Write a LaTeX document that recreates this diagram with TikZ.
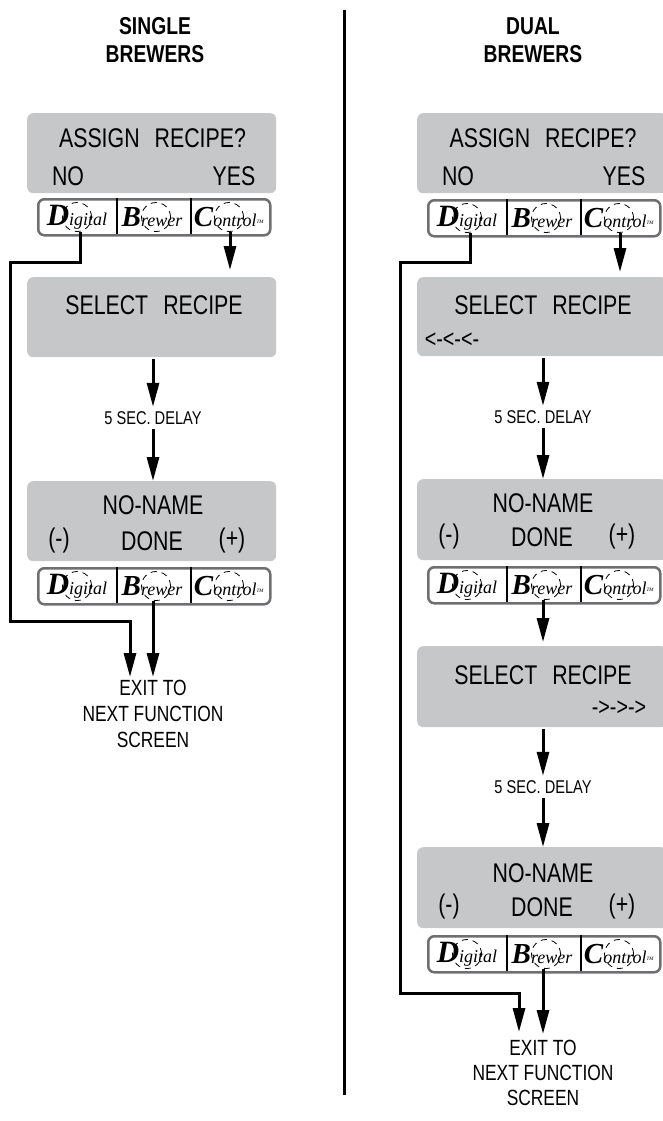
\documentclass[tikz,border=0pt]{standalone}
\usepackage{fontspec}
\setmainfont[FakeStretch=0.79]{Liberation Sans}
\newfontfamily\logofont{Liberation Serif}
\usetikzlibrary{arrows.meta,calc}
\definecolor{lcd}{HTML}{C6C7C8}
\definecolor{edgegray}{HTML}{6E6F71}
\tikzset{
  screenbox/.style={fill=lcd,rounded corners=6pt,inner sep=0pt,anchor=north west},
  big/.style={font=\fontsize{27}{27}\selectfont,inner sep=0pt,text=black},
  sym/.style={font=\fontsize{25}{25}\selectfont,inner sep=0pt,text=black},
  mid/.style={font=\fontsize{22}{22}\selectfont,inner sep=0pt,text=black},
  small/.style={font=\fontsize{18.5}{18.5}\selectfont,inner sep=0pt,minimum height=22pt,text=black},
  head/.style={font=\fontsize{24.4}{24.4}\selectfont\bfseries,inner sep=0pt,align=center},
  strippanel/.style={draw=edgegray,line width=2.5pt,rounded corners=6pt,fill=white,minimum width=232pt,minimum height=36pt,inner sep=0pt,anchor=north west},
  divider/.style={line width=2.5pt,black},
  dashcircle/.style={circle,draw=black,dash pattern=on 6pt off 5pt,line width=.8pt,minimum size=29pt,inner sep=0pt},
  logotext/.style={inner sep=0pt,font=\logofont\fontsize{18}{18}\selectfont\itshape},
  arr/.style={line width=3pt,black,-{Triangle[length=24pt,width=12pt]}},
}
\newcommand{\logostrip}[3]{%
  \node[strippanel] (#3) at (#1,#2) {};
  \path (#1,#2) ++(80,0) coordinate (#3dv1) ++(74,0) coordinate (#3dv2);
  \draw[divider] (#3dv1) -- ++(0,36);
  \draw[divider] (#3dv2) -- ++(0,36);
  \node[logotext] (#3dt) at ($(#1,#2)+(40,19)$) {{\fontsize{31}{31}\selectfont\bfseries D}igital};
  \node[logotext] (#3bt) at ($(#1,#2)+(115,19)$) {{\fontsize{29}{29}\selectfont\bfseries B}rewer};
  \node[logotext] (#3ct) at ($(#1,#2)+(192,19)$) {{\fontsize{29}{29}\selectfont\bfseries C}ontrol{\fontsize{6}{6}\selectfont\textsuperscript{TM}}};
  \node[dashcircle] (#3d) at ($(#1,#2)+(40,19)$) {};
  \node[dashcircle] (#3b) at ($(#1,#2)+(119,19)$) {};
  \node[dashcircle] (#3c) at ($(#1,#2)+(192,19)$) {};
}
\begin{document}
\begin{tikzpicture}[x=1pt,y=-1pt]
\useasboundingbox (0,0) rectangle (663,1121);
% divider
\coordinate (topmid) at (344.5,10);
\coordinate (botmid) at (344.5,1095);
\draw[line width=2.5pt] (topmid) -- (botmid);
% headers
\node[head] (h1) at (155,40) {SINGLE\\[4pt]BREWERS};
\node[head] (h2) at (533,40) {DUAL\\[4pt]BREWERS};
%%% LEFT
\node[screenbox,minimum width=249pt,minimum height=80pt] (a1) at (27,113) {};
\node[big] (a1t) at (152.5,138) {ASSIGN\hspace{15pt}RECIPE?};
\node[big] (a1n) at (68,176) {NO};
\node[big] (a1y) at (234,176) {YES};
\logostrip{37}{198}{sa}
\node[screenbox,minimum width=249pt,minimum height=80pt] (a2) at (27,277) {};
\node[big] (a2t) at (154,305) {SELECT\hspace{15pt}RECIPE};
\node[small] (a3) at (153,418) {5 SEC. DELAY};
\node[screenbox,minimum width=249pt,minimum height=80pt] (a4) at (27,481) {};
\node[big] (a4t) at (153,505) {NO-NAME};
\node[big] (a4m) at (59,541) {(-)};
\node[big] (a4d) at (152,541) {DONE};
\node[big] (a4p) at (232,541) {(+)};
\logostrip{37}{567}{sb}
\node[mid,align=center] (a5a) at (153,688) {EXIT TO};
\node[mid] (a5b) at (153,714) {NEXT FUNCTION};
\node[mid] (a5c) at (153,740) {SCREEN};
\coordinate (a5in) at (130,677);
\coordinate (a5in2) at (153,677);
\coordinate (la) at (10,262);
\coordinate (lb) at (10,621);
\draw[arr] (sad.south -| 80,0) -- (80,262) -- (la) -- (lb) -- (lb -| a5in) -- (a5in);
\draw[arr] (sac.south -| 230,0) -- (230,270);
\draw[arr] (a3 |- a2.south) ++(0,2) -- (a3.north);
\draw[arr] (a3.south) -- (a3 |- a4.north);
\draw[arr] (a5in2 |- sbb.south) -- (a5in2);
%%% RIGHT
\node[screenbox,minimum width=250pt,minimum height=80pt] (b1) at (417,113) {};
\node[big] (b1t) at (543,138) {ASSIGN\hspace{15pt}RECIPE?};
\node[big] (b1n) at (458,176) {NO};
\node[big] (b1y) at (624,176) {YES};
\logostrip{427}{199}{sc}
\node[screenbox,minimum width=250pt,minimum height=79pt] (b2) at (417,277) {};
\node[big] (b2t) at (543,305) {SELECT\hspace{15pt}RECIPE};
\node[sym] (b2s) at (452,340) {<-<-<-};
\node[small] (b3) at (543,417) {5 SEC. DELAY};
\node[screenbox,minimum width=250pt,minimum height=81pt] (b4) at (417,479) {};
\node[big] (b4t) at (543,503) {NO-NAME};
\node[big] (b4m) at (449,537) {(-)};
\node[big] (b4d) at (542,537) {DONE};
\node[big] (b4p) at (622,537) {(+)};
\logostrip{427}{566}{sd}
\node[screenbox,minimum width=250pt,minimum height=81pt] (b5) at (417,646) {};
\node[big] (b5t) at (543,675) {SELECT\hspace{15pt}RECIPE};
\node[sym] (b5s) at (619,708) {->->->};
\node[small] (b6) at (543,787) {5 SEC. DELAY};
\node[screenbox,minimum width=250pt,minimum height=81pt] (b7) at (417,847) {};
\node[big] (b7t) at (543,873) {NO-NAME};
\node[big] (b7m) at (449,907) {(-)};
\node[big] (b7d) at (542,907) {DONE};
\node[big] (b7p) at (622,907) {(+)};
\logostrip{427}{935}{se}
\node[mid] (b8a) at (543,1048) {EXIT TO};
\node[mid] (b8b) at (543,1073) {NEXT FUNCTION};
\node[mid] (b8c) at (543,1098) {SCREEN};
\coordinate (b8in) at (519,1032);
\coordinate (b8in2) at (543,1034);
\coordinate (ra) at (400,262);
\coordinate (rb) at (400,993);
\draw[arr] (scd.south -| 470,0) -- (470,262) -- (ra) -- (rb) -- (rb -| b8in) -- (b8in);
\draw[arr] (scc.south -| 620,0) -- (620,272);
\draw[arr] (b3 |- b2.south) ++(0,2) -- (b3.north);
\draw[arr] (b3.south) -- (b3 |- b4.north);
\draw[arr] (b8in2 |- sdb.south) -- (543,642);
\draw[arr] (b6 |- b5.south) ++(0,2) -- (b6.north);
\draw[arr] (b6.south) -- (b6 |- b7.north);
\draw[arr] (b8in2 |- seb.south) -- (b8in2);
\end{tikzpicture}
\end{document}
